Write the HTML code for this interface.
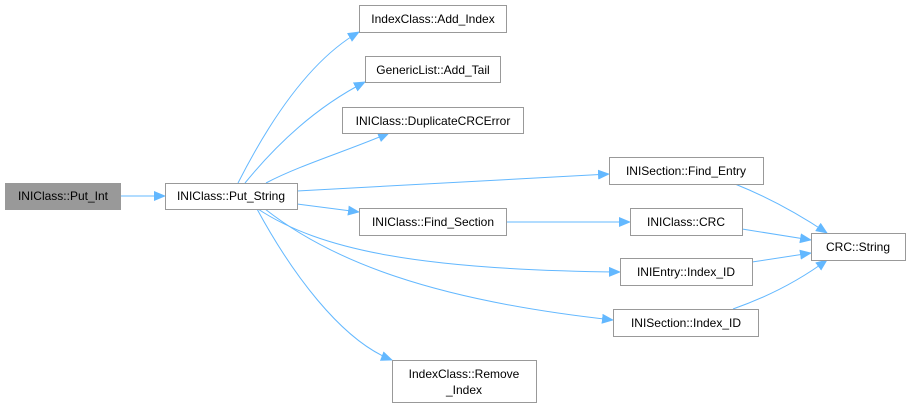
<!DOCTYPE html>
<html><head><meta charset="utf-8"><style>
html,body{margin:0;padding:0;background:#fff;width:910px;height:408px;overflow:hidden}
text{font-family:"Liberation Sans",Arial,sans-serif;font-size:12px;fill:#000}
</style></head><body>
<svg width="910" height="408" viewBox="0 0 910 408" xmlns="http://www.w3.org/2000/svg">
<defs><marker id="a" markerWidth="12" markerHeight="10" refX="11" refY="5" orient="auto" markerUnits="userSpaceOnUse"><path d="M0,0 L12,5 L0,10 Z" fill="#63b8ff"/></marker></defs>
<g fill="none" stroke="#63b8ff" stroke-width="1" marker-end="url(#a)">
<path d="M120,196 L165,196"/>
<path d="M238,183 C270,120 310,60 359,32"/>
<path d="M245,183 C280,140 320,105 365,82"/>
<path d="M266,183 C300,165 350,150 389,133"/>
<path d="M297,191 L609,174"/>
<path d="M297,204 L359,212"/>
<path d="M258,209 C320,250 420,270 620,272"/>
<path d="M265,209 C330,260 430,300 613,320"/>
<path d="M257,209 C290,270 340,340 392,360"/>
<path d="M506,222 L630,222"/>
<path d="M735,184 C770,198 800,215 827,233"/>
<path d="M742,229 L811,240"/>
<path d="M752,262 L811,253"/>
<path d="M733,309 C770,296 800,280 827,260"/>
</g>
<g stroke="#999" stroke-width="1" fill="#fff">
<rect x="5.5" y="183.5" width="115" height="26" fill="#999"/>
<rect x="165.5" y="183.5" width="132" height="26"/>
<rect x="359.5" y="5.5" width="147" height="27"/>
<rect x="365.5" y="56.5" width="135" height="26"/>
<rect x="342.5" y="107.5" width="181" height="26"/>
<rect x="359.5" y="208.5" width="147" height="27"/>
<rect x="609.5" y="157.5" width="154" height="27"/>
<rect x="630.5" y="208.5" width="112" height="27"/>
<rect x="811.5" y="233.5" width="94" height="27"/>
<rect x="620.5" y="258.5" width="132" height="27"/>
<rect x="613.5" y="309.5" width="145" height="27"/>
<rect x="392.5" y="360.5" width="144" height="42"/>
</g>
<g text-anchor="middle">
<text x="63" y="200">INIClass::Put_Int</text>
<text x="231" y="200">INIClass::Put_String</text>
<text x="433" y="23">IndexClass::Add_Index</text>
<text x="433" y="74">GenericList::Add_Tail</text>
<text x="433" y="125">INIClass::DuplicateCRCError</text>
<text x="433" y="226">INIClass::Find_Section</text>
<text x="686" y="175">INISection::Find_Entry</text>
<text x="686" y="226">INIClass::CRC</text>
<text x="858" y="251">CRC::String</text>
<text x="686" y="276">INIEntry::Index_ID</text>
<text x="686" y="327">INISection::Index_ID</text>
<text x="464" y="378">IndexClass::Remove</text>
<text x="464" y="394">_Index</text>
</g>
</svg>
</body></html>
